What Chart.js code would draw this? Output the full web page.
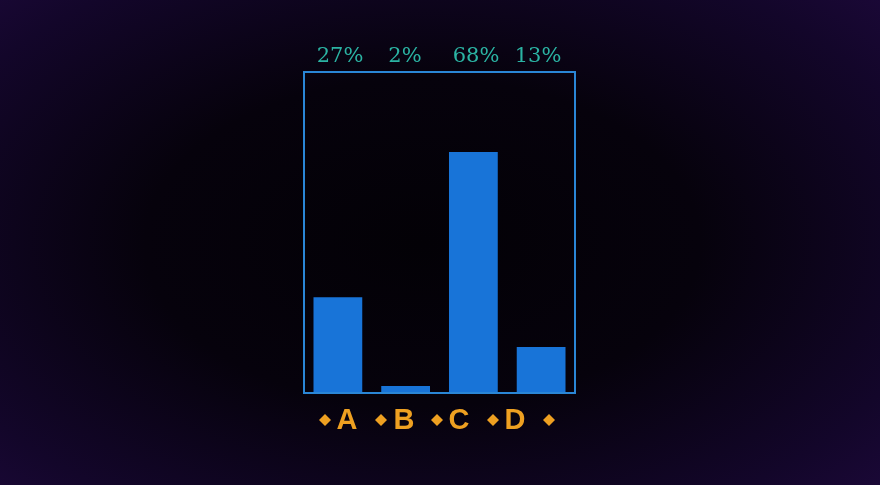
<!DOCTYPE html>
<html><head><meta charset="utf-8">
<script src="https://cdn.jsdelivr.net/npm/chart.js@4"></script>
<style>
html,body{margin:0;padding:0;width:880px;height:485px;overflow:hidden;
background:radial-gradient(ellipse 70% 75% at 48% 50%, #030106 0%, #06020c 45%, #13062a 85%, #1a0836 100%);}
#wrap{position:absolute;left:0;top:0;width:880px;height:485px;}
</style></head>
<body><div id="wrap"><canvas id="c" width="880" height="485"></canvas></div>
<script>
const categories = ["A","B","C","D"];
const values = [27, 2, 68, 13];
const valueLabels = ["27%","2%","68%","13%"];
const yMax = 90.6;

const deco = {
  id:'deco',
  afterDatasetsDraw(chart){
    const ctx = chart.ctx, a = chart.chartArea;
    ctx.save();
    ctx.strokeStyle = '#2a86d6';
    ctx.lineWidth = 2;
    ctx.strokeRect(a.left, a.top, a.right-a.left, a.bottom-a.top);
    const meta = chart.getDatasetMeta(0);
    ctx.fillStyle = '#2bb3a3';
    ctx.font = '21px "DejaVu Serif", serif';
    ctx.textAlign = 'center';
    ctx.textBaseline = 'middle';
    const lx = [340,405,476,538];
    meta.data.forEach((b,i)=>{ ctx.fillText(valueLabels[i], lx[i], 57); });
    ctx.font = 'bold 29px "Liberation Sans", Arial, sans-serif';
    ctx.fillStyle = '#eea021';
    const xs = [347,404,459,515];
    const ds = [325,381,437,493,549];
    categories.forEach((c,i)=>{ ctx.fillText(c, xs[i], 421); });
    ds.forEach(x=>{
      ctx.beginPath();
      ctx.moveTo(x,414); ctx.lineTo(x+6,420); ctx.lineTo(x,426); ctx.lineTo(x-6,420); ctx.closePath();
      ctx.fill();
    });
    ctx.restore();
  }
};

new Chart(document.getElementById('c'), {
  type:'bar',
  data:{labels:categories, datasets:[{data:values, backgroundColor:'#1874d8', borderWidth:0,
    barPercentage:0.72, categoryPercentage:1}]},
  options:{
    responsive:false, animation:false,
    layout:{padding:{left:304,right:305,top:72,bottom:92}},
    plugins:{legend:{display:false}, tooltip:{enabled:false}},
    scales:{
      x:{display:false},
      y:{display:false, min:0, max:yMax}
    }
  },
  plugins:[deco]
});
</script></body></html>
